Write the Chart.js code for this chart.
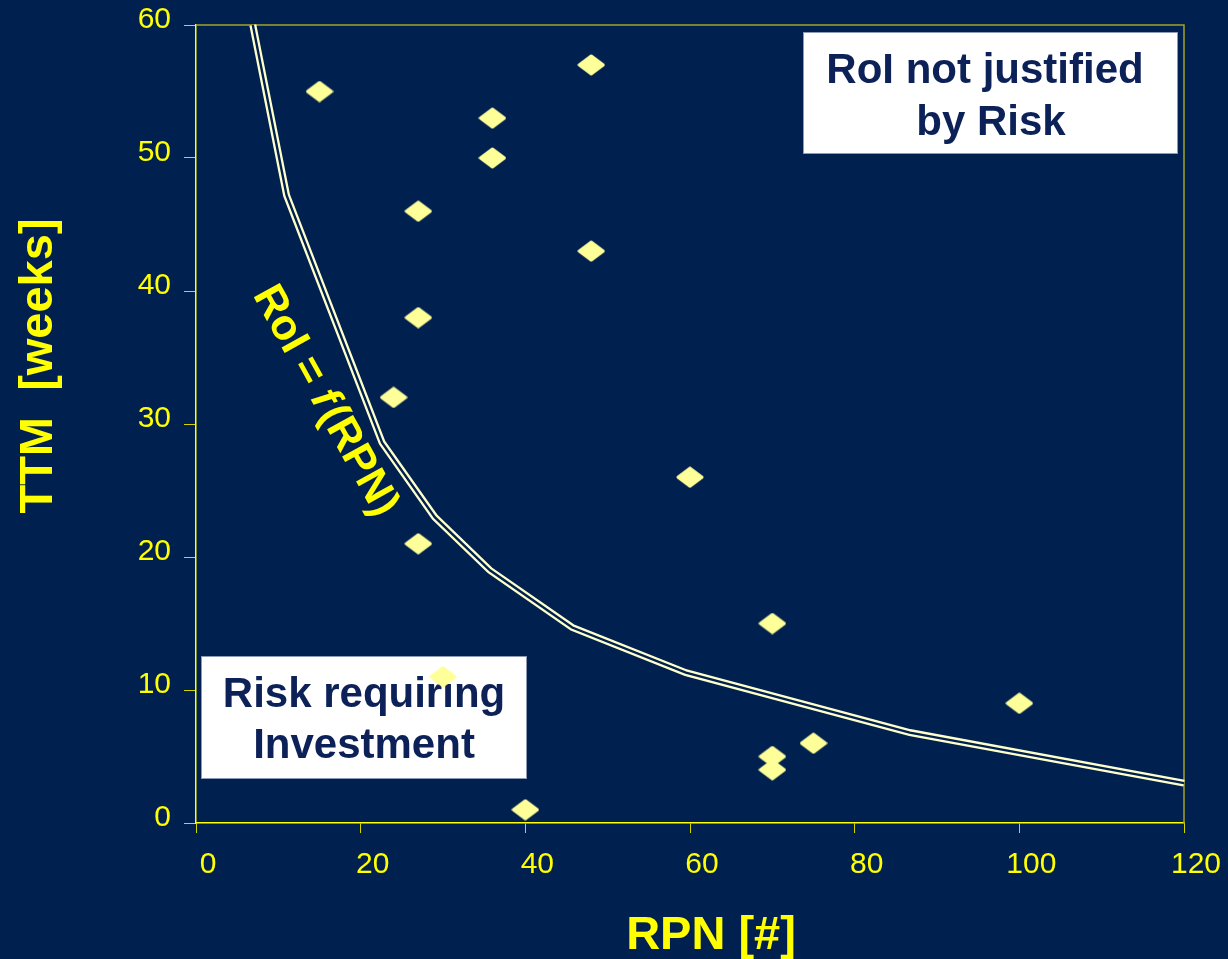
<!DOCTYPE html>
<html>
<head>
<meta charset="utf-8">
<script src="https://cdn.jsdelivr.net/npm/chart.js@4/dist/chart.umd.min.js"></script>
<style>
  html, body { margin: 0; padding: 0; background: #00204f; }
  canvas { display: block; }
</style>
</head>
<body>
<canvas id="c" width="1228" height="959"></canvas>
<script>
// Risk items: RPN score vs. time to market
const rpnValues = [15, 48, 36, 36, 27, 48, 27, 24, 27, 60, 30, 70, 40, 70, 70, 75, 100];
const ttmValues = [55, 57, 53, 50, 46, 43, 38, 32, 21, 26, 11, 15, 1, 5, 4, 6, 9];

// Break-even curve RoI = f(RPN)
const curveRpn = [6.9, 11, 22.6, 29, 35.7, 45.7, 59.5, 86.7, 120];
const curveTtm = [60, 47.2, 28.6, 23, 19, 14.7, 11.3, 6.8, 3];

// Axis ticks
const xTickValues = [0, 20, 40, 60, 80, 100, 120];
const yTickValues = [0, 10, 20, 30, 40, 50, 60];

const FONT = "'Liberation Sans', Arial, Helvetica, sans-serif";
const NAVY = '#00204f';
const YELLOW = '#ffff00';

// Diamond marker
function makeDiamond(w, h, color) {
  const c = document.createElement('canvas');
  c.width = w; c.height = h;
  const g = c.getContext('2d');
  g.fillStyle = color; g.strokeStyle = color;
  g.lineWidth = 3; g.lineJoin = 'round';
  g.beginPath();
  g.moveTo(w / 2, 2);
  g.lineTo(w - 2, h / 2);
  g.lineTo(w / 2, h - 2);
  g.lineTo(2, h / 2);
  g.closePath();
  g.fill(); g.stroke();
  return c;
}
const diamond = makeDiamond(28, 22, '#ffff99');

const toXY = (xs, ys) => xs.map((x, i) => ({ x, y: ys[i] }));

// drop the automatic label padding so the plot area sits where the layout puts it
const noPad = s => { s.paddingTop = 0; s.paddingBottom = 0; s.paddingLeft = 0; s.paddingRight = 0; };

const decor = {
  id: 'decor',
  beforeDatasetsDraw(chart) {
    const ctx = chart.ctx;
    const a = chart.chartArea;
    ctx.save();
    // plot frame (top / right)
    ctx.strokeStyle = '#a3a32a';
    ctx.lineWidth = 1.5;
    ctx.beginPath();
    ctx.moveTo(a.left, a.top); ctx.lineTo(a.right, a.top); ctx.lineTo(a.right, a.bottom);
    ctx.stroke();

    // region boxes
    const boxes = [
      { x: 803, y: 32, w: 375, h: 122, lines: [['RoI not justified', 985, 83], ['by Risk', 991, 135]] },
      { x: 201, y: 656, w: 326, h: 123, lines: [['Risk requiring', 364, 707], ['Investment', 364, 758]] }
    ];
    boxes.forEach(b => {
      ctx.fillStyle = '#ffffff';
      ctx.fillRect(b.x, b.y, b.w, b.h);
      ctx.strokeStyle = '#8c9ab8';
      ctx.lineWidth = 1;
      ctx.strokeRect(b.x + 0.5, b.y + 0.5, b.w - 1, b.h - 1);
      ctx.fillStyle = '#0b2157';
      ctx.font = 'bold 42px ' + FONT;
      ctx.textAlign = 'center';
      ctx.textBaseline = 'alphabetic';
      b.lines.forEach(([t, x, y]) => ctx.fillText(t, x, y));
    });
    ctx.restore();
  },
  afterDraw(chart) {
    const ctx = chart.ctx;
    ctx.save();
    ctx.fillStyle = YELLOW;
    ctx.font = 'bold 47px ' + FONT;
    ctx.textAlign = 'center';
    ctx.textBaseline = 'alphabetic';
    // x-axis title
    ctx.fillText('RPN [#]', 711, 949);
    // y-axis title
    ctx.save();
    ctx.translate(52, 366);
    ctx.rotate(-Math.PI / 2);
    ctx.fillText('TTM  [weeks]', 0, 0);
    ctx.restore();

    // curve label
    ctx.save();
    ctx.translate(325, 401);
    ctx.rotate(61 * Math.PI / 180);
    ctx.textBaseline = 'middle';
    ctx.textAlign = 'left';
    const parts = [['RoI = ', 'bold 43px '], ['f', 'italic bold 43px '], ['(RPN)', 'bold 43px ']];
    let total = 0;
    parts.forEach(([t, f]) => { ctx.font = f + FONT; total += ctx.measureText(t).width; });
    total += 4;
    let x = -total / 2;
    parts.forEach(([t, f], i) => {
      ctx.font = f + FONT; ctx.fillText(t, x, 0);
      x += ctx.measureText(t).width + (i === 1 ? 4 : 0);
    });
    ctx.restore();
    ctx.restore();
  }
};

new Chart(document.getElementById('c'), {
  type: 'scatter',
  data: {
    datasets: [
      {
        data: toXY(rpnValues, ttmValues),
        pointStyle: diamond,
        pointRadius: 10,
        pointHoverRadius: 10,
        showLine: false
      },
      {
        data: toXY(curveRpn, curveTtm),
        showLine: true,
        borderColor: NAVY,
        borderWidth: 2.4,
        pointRadius: 0,
        tension: 0,
        clip: 4
      },
      {
        data: toXY(curveRpn, curveTtm),
        showLine: true,
        borderColor: '#ffffcc',
        borderWidth: 7,
        pointRadius: 0,
        tension: 0,
        clip: 4
      }
    ]
  },
  options: {
    responsive: false,
    animation: false,
    devicePixelRatio: 1,
    layout: { padding: { left: 0, top: 25, right: 44, bottom: 0 } },
    plugins: { legend: { display: false }, tooltip: { enabled: false } },
    scales: {
      x: {
        type: 'linear',
        min: 0, max: 120,
        afterBuildTicks: s => { s.ticks = xTickValues.map(v => ({ value: v })); },
        afterFit: s => { s.height = 136; noPad(s); },
        ticks: { color: YELLOW, font: { family: FONT, size: 30 }, labelOffset: 12, padding: 14, maxRotation: 0 },
        grid: { drawOnChartArea: false, drawTicks: true, tickLength: 10, color: '#d4d400', lineWidth: 1 },
        border: { color: YELLOW, width: 1.5 }
      },
      y: {
        type: 'linear',
        min: 0, max: 60,
        afterBuildTicks: s => { s.ticks = yTickValues.map(v => ({ value: v })); },
        afterFit: s => { s.width = 196; noPad(s); },
        ticks: { color: YELLOW, font: { family: FONT, size: 30 }, labelOffset: -5, padding: 13 },
        grid: { drawOnChartArea: false, drawTicks: true, tickLength: 12, color: '#d4d400', lineWidth: 1 },
        border: { color: YELLOW, width: 1.5 }
      }
    }
  },
  plugins: [decor]
});
</script>
</body>
</html>
